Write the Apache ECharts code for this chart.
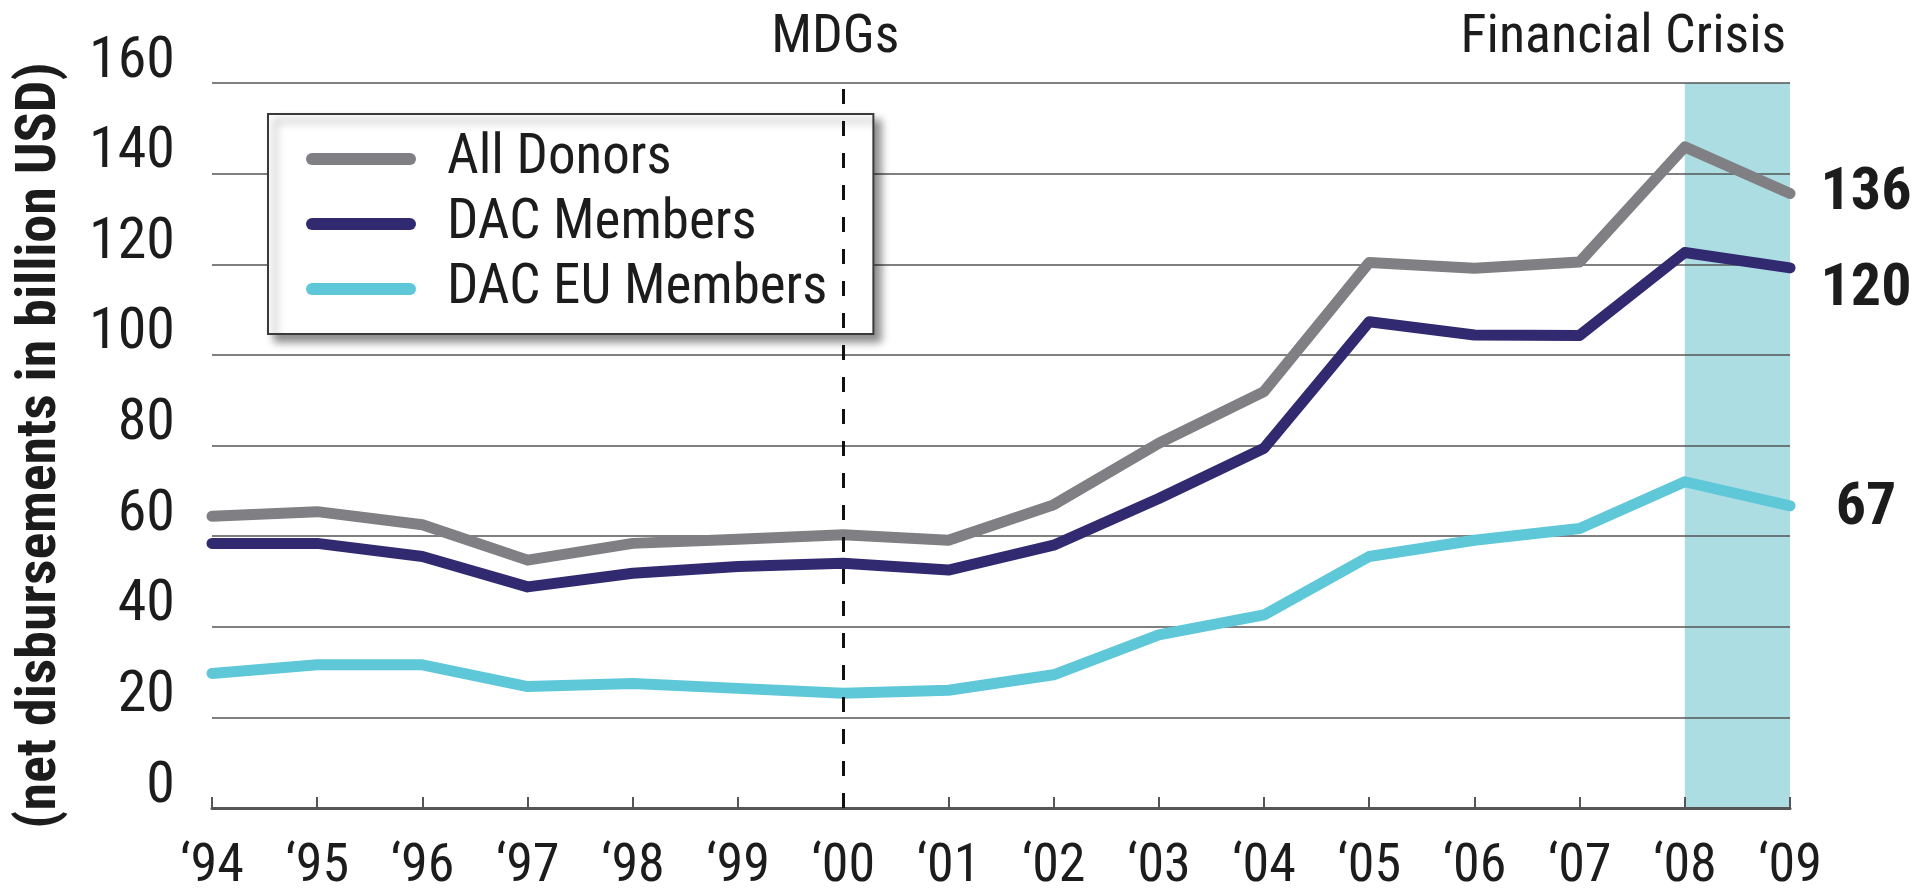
<!DOCTYPE html>
<html>
<head>
<meta charset="utf-8">
<script src="https://cdn.jsdelivr.net/npm/echarts@6/dist/echarts.min.js"></script>
<style>
html,body{margin:0;padding:0;background:#fff;}
#chart{width:1927px;height:892px;}
</style>
</head>
<body>
<div id="chart"></div>
<script>
const years = ['\u201894','\u201895','\u201896','\u201897','\u201898','\u201899','\u201800','\u201801','\u201802','\u201803','\u201804','\u201805','\u201806','\u201807','\u201808','\u201809'];
const allDonors = [64.4, 65.4, 62.5, 54.7, 58.4, 59.3, 60.3, 59.1, 66.9, 80.5, 91.9, 120.4, 119.1, 120.5, 145.9, 135.6];
const dacMembers = [58.4, 58.4, 55.5, 48.8, 51.8, 53.3, 54.0, 52.5, 58.0, 68.3, 79.4, 107.3, 104.4, 104.3, 122.6, 119.2];
const dacEuMembers = [29.7, 31.6, 31.6, 26.8, 27.5, 26.4, 25.3, 26.0, 29.4, 38.2, 42.6, 55.5, 59.1, 61.7, 72.0, 66.7];
const seriesNames = ['All Donors', 'DAC Members', 'DAC EU Members'];
const endLabels = ['136', '120', '67'];
const mdgYear = '\u201800';
const crisisStart = '\u201808';
const crisisEnd = '\u201809';
const yTicks = [0, 20, 40, 60, 80, 100, 120, 140, 160];

const NARROW = "'Roboto Condensed','Liberation Sans Narrow','Arial Narrow','DejaVu Sans Condensed',sans-serif";
const TXT = '#1c1c1c';
const colors = ['#808084', '#322a70', '#5ec8d8'];
const endOffsets = [[76, 0], [76, 22], [76, 3]];
const datasets = [allDonors, dacMembers, dacEuMembers];
const last = years.length - 1;

const chart = echarts.init(document.getElementById('chart'), null, {renderer: 'canvas'});

const series = datasets.map((d, i) => ({
  name: seriesNames[i],
  type: 'line',
  data: d,
  symbol: 'none',
  z: 3,
  lineStyle: {color: colors[i], width: 11, cap: 'round', join: 'round'},
  itemStyle: {color: colors[i]},
  markPoint: {
    symbol: 'circle',
    symbolSize: 1,
    itemStyle: {color: 'rgba(0,0,0,0)'},
    data: [{coord: [years[last], d[last]], value: endLabels[i]}],
    label: {
      show: true,
      position: 'inside',
      offset: endOffsets[i],
      formatter: endLabels[i],
      fontFamily: NARROW,
      fontWeight: 'bold',
      fontSize: 60,
      color: TXT
    }
  }
}));

series[0].markLine = {
  silent: true,
  symbol: 'none',
  lineStyle: {color: '#111', width: 3, type: [15, 17]},
  label: {
    show: true,
    position: 'end',
    formatter: 'MDGs',
    fontFamily: NARROW,
    fontSize: 54,
    lineHeight: 54,
    distance: 18,
    offset: [-8, 0],
    color: TXT
  },
  data: [{xAxis: mdgYear}]
};
series[0].markArea = {
  silent: true,
  z: 1,
  itemStyle: {color: '#acdde2'},
  label: {
    show: true,
    position: 'top',
    offset: [-114, 0],
    distance: 18,
    formatter: 'Financial Crisis',
    fontFamily: NARROW,
    fontSize: 54,
    color: TXT
  },
  data: [[{xAxis: crisisStart}, {xAxis: crisisEnd}]]
};

const option = {
  animation: false,
  backgroundColor: '#fff',
  grid: {left: 212, right: 137, top: 83, bottom: 84, containLabel: false, outerBoundsMode: 'none'},
  legend: {
    orient: 'vertical',
    left: 268,
    top: 114,
    data: seriesNames,
    icon: 'path://M6,0H104A6,6,0,0,1,104,12H6A6,6,0,0,1,6,0Z',
    itemWidth: 110,
    itemHeight: 12,
    itemGap: 9,
    padding: [17, 46, 17, 38],
    backgroundColor: '#fff',
    borderColor: '#3a3a3a',
    borderWidth: 2,
    borderRadius: 0,
    shadowColor: 'rgba(0,0,0,0.45)',
    shadowBlur: 8,
    shadowOffsetX: 7,
    shadowOffsetY: 7,
    selectedMode: false,
    textStyle: {
      fontFamily: NARROW,
      fontSize: 55,
      lineHeight: 56,
      color: TXT,
      padding: [0, 0, 0, 26]
    }
  },
  xAxis: {
    type: 'category',
    data: years,
    boundaryGap: false,
    z: 1.5,
    axisLine: {show: true, lineStyle: {color: '#555', width: 3}},
    axisTick: {show: true, inside: true, length: 11, alignWithLabel: true, lineStyle: {color: '#555', width: 2}},
    axisLabel: {
      margin: 32,
      fontFamily: NARROW,
      fontSize: 54,
      color: TXT,
      interval: 0
    },
    splitLine: {show: false}
  },
  yAxis: {
    type: 'value',
    min: 0,
    max: 160,
    interval: 20,
    z: 1.5,
    name: '(net disbursements in billion USD)',
    nameLocation: 'middle',
    nameRotate: 90,
    nameGap: 143,
    nameTextStyle: {
      fontFamily: NARROW,
      fontWeight: 'bold',
      fontSize: 56,
      color: TXT
    },
    axisLine: {show: false},
    axisTick: {show: false},
    axisLabel: {
      margin: 37,
      fontFamily: NARROW,
      fontSize: 58,
      lineHeight: 42,
      verticalAlign: 'bottom',
      color: TXT,
      formatter: v => yTicks.includes(v) ? String(v) : ''
    },
    splitLine: {show: true, lineStyle: {color: '#555', width: 1.5}}
  },
  series: series
};
chart.setOption(option);
</script>
</body>
</html>
